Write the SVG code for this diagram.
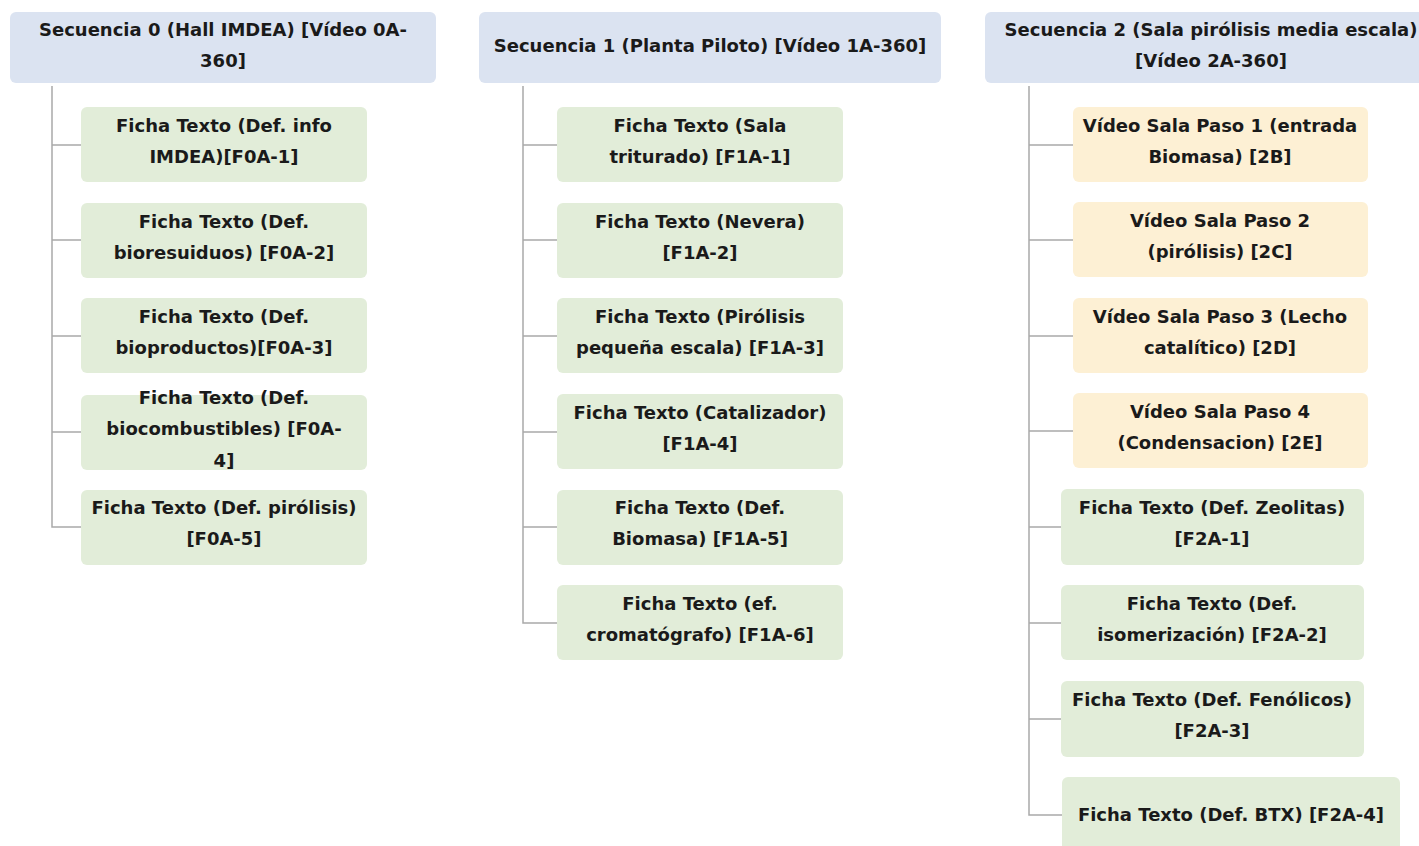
<svg xmlns="http://www.w3.org/2000/svg" width="1419" height="846" viewBox="0 0 1419 846">
<style>
.hdr{fill:#dbe3f1}
.grn{fill:#e2edd9}
.yel{fill:#fdf0d4}
.t{font-family:"DejaVu Sans","Open Sans",sans-serif;font-weight:700;font-size:18px;fill:#1a1a1a;text-anchor:middle}
.c{fill:none;stroke:#a9a9a9;stroke-width:1.5}
</style>
<rect width="1419" height="846" fill="#ffffff"/>
<g id="connectors">
<path class="c" d="M52 86 V527 H81 M52 145 H81 M52 240 H81 M52 336 H81 M52 432 H81"/>
<path class="c" d="M523 86 V623 H557 M523 145 H557 M523 240 H557 M523 336 H557 M523 432 H557 M523 527 H557"/>
<path class="c" d="M1029 86 V815 H1062 M1029 145 H1073 M1029 240 H1073 M1029 336 H1073 M1029 431 H1073 M1029 527 H1061 M1029 623 H1061 M1029 719 H1061"/>
</g>
<g id="seq0"><rect class="hdr" x="10" y="12" width="426" height="71" rx="6"/><text class="t"><tspan x="223" y="36">Secuencia 0 (Hall IMDEA) [Vídeo 0A-</tspan><tspan x="223" y="67">360]</tspan></text></g>
<g id="seq1"><rect class="hdr" x="479" y="12" width="462" height="71" rx="6"/><text class="t"><tspan x="710" y="52">Secuencia 1 (Planta Piloto) [Vídeo 1A-360]</tspan></text></g>
<g id="seq2"><rect class="hdr" x="985" y="12" width="452" height="71" rx="6"/><text class="t"><tspan x="1211" y="36">Secuencia 2 (Sala pirólisis media escala)</tspan><tspan x="1211" y="67">[Vídeo 2A-360]</tspan></text></g>

<g id="f0a1"><rect class="grn" x="81" y="107" width="286" height="75" rx="6"/><text class="t"><tspan x="224" y="132">Ficha Texto (Def. info</tspan><tspan x="224" y="163">IMDEA)[F0A-1]</tspan></text></g>
<g id="f0a2"><rect class="grn" x="81" y="203" width="286" height="75" rx="6"/><text class="t"><tspan x="224" y="228">Ficha Texto (Def.</tspan><tspan x="224" y="259">bioresuiduos) [F0A-2]</tspan></text></g>
<g id="f0a3"><rect class="grn" x="81" y="298" width="286" height="75" rx="6"/><text class="t"><tspan x="224" y="323">Ficha Texto (Def.</tspan><tspan x="224" y="354">bioproductos)[F0A-3]</tspan></text></g>
<g id="f0a4"><rect class="grn" x="81" y="395" width="286" height="75" rx="6"/><text class="t"><tspan x="224" y="404">Ficha Texto (Def.</tspan><tspan x="224" y="435">biocombustibles) [F0A-</tspan><tspan x="224" y="467">4]</tspan></text></g>
<g id="f0a5"><rect class="grn" x="81" y="490" width="286" height="75" rx="6"/><text class="t"><tspan x="224" y="514">Ficha Texto (Def. pirólisis)</tspan><tspan x="224" y="545">[F0A-5]</tspan></text></g>

<g id="f1a1"><rect class="grn" x="557" y="107" width="286" height="75" rx="6"/><text class="t"><tspan x="700" y="132">Ficha Texto (Sala</tspan><tspan x="700" y="163">triturado) [F1A-1]</tspan></text></g>
<g id="f1a2"><rect class="grn" x="557" y="203" width="286" height="75" rx="6"/><text class="t"><tspan x="700" y="228">Ficha Texto (Nevera)</tspan><tspan x="700" y="259">[F1A-2]</tspan></text></g>
<g id="f1a3"><rect class="grn" x="557" y="298" width="286" height="75" rx="6"/><text class="t"><tspan x="700" y="323">Ficha Texto (Pirólisis</tspan><tspan x="700" y="354">pequeña escala) [F1A-3]</tspan></text></g>
<g id="f1a4"><rect class="grn" x="557" y="394" width="286" height="75" rx="6"/><text class="t"><tspan x="700" y="419">Ficha Texto (Catalizador)</tspan><tspan x="700" y="450">[F1A-4]</tspan></text></g>
<g id="f1a5"><rect class="grn" x="557" y="490" width="286" height="75" rx="6"/><text class="t"><tspan x="700" y="514">Ficha Texto (Def.</tspan><tspan x="700" y="545">Biomasa) [F1A-5]</tspan></text></g>
<g id="f1a6"><rect class="grn" x="557" y="585" width="286" height="75" rx="6"/><text class="t"><tspan x="700" y="610">Ficha Texto (ef.</tspan><tspan x="700" y="641">cromatógrafo) [F1A-6]</tspan></text></g>

<g id="v2b"><rect class="yel" x="1073" y="107" width="295" height="75" rx="6"/><text class="t"><tspan x="1220" y="132">Vídeo Sala Paso 1 (entrada</tspan><tspan x="1220" y="163">Biomasa) [2B]</tspan></text></g>
<g id="v2c"><rect class="yel" x="1073" y="202" width="295" height="75" rx="6"/><text class="t"><tspan x="1220" y="227">Vídeo Sala Paso 2</tspan><tspan x="1220" y="258">(pirólisis) [2C]</tspan></text></g>
<g id="v2d"><rect class="yel" x="1073" y="298" width="295" height="75" rx="6"/><text class="t"><tspan x="1220" y="323">Vídeo Sala Paso 3 (Lecho</tspan><tspan x="1220" y="354">catalítico) [2D]</tspan></text></g>
<g id="v2e"><rect class="yel" x="1073" y="393" width="295" height="75" rx="6"/><text class="t"><tspan x="1220" y="418">Vídeo Sala Paso 4</tspan><tspan x="1220" y="449">(Condensacion) [2E]</tspan></text></g>
<g id="f2a1"><rect class="grn" x="1061" y="489" width="303" height="76" rx="6"/><text class="t"><tspan x="1212" y="514">Ficha Texto (Def. Zeolitas)</tspan><tspan x="1212" y="545">[F2A-1]</tspan></text></g>
<g id="f2a2"><rect class="grn" x="1061" y="585" width="303" height="75" rx="6"/><text class="t"><tspan x="1212" y="610">Ficha Texto (Def.</tspan><tspan x="1212" y="641">isomerización) [F2A-2]</tspan></text></g>
<g id="f2a3"><rect class="grn" x="1061" y="681" width="303" height="76" rx="6"/><text class="t"><tspan x="1212" y="706">Ficha Texto (Def. Fenólicos)</tspan><tspan x="1212" y="737">[F2A-3]</tspan></text></g>
<g id="f2a4"><rect class="grn" x="1062" y="777" width="338" height="80" rx="6"/><text class="t"><tspan x="1231" y="821">Ficha Texto (Def. BTX) [F2A-4]</tspan></text></g>
</svg>
